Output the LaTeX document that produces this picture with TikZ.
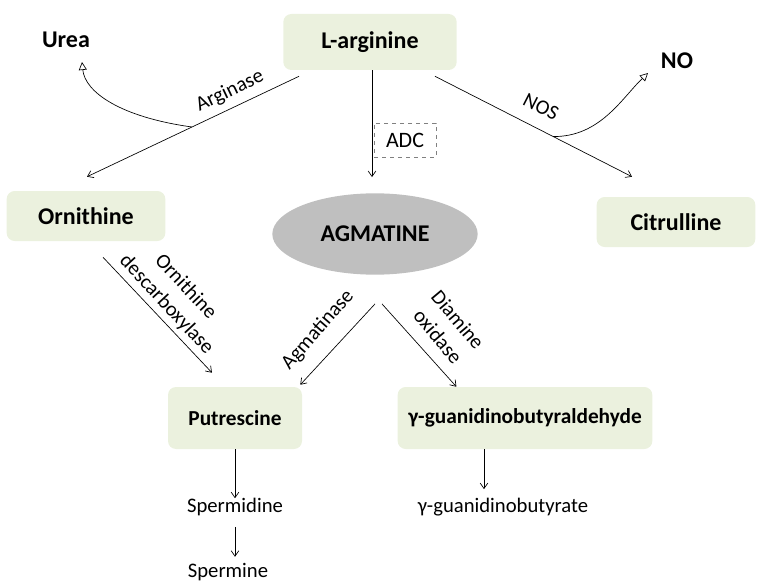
\documentclass[tikz,border=0pt]{standalone}
\usepackage{fontspec}
\setmainfont{Carlito}
\usepackage{tikz}
\usetikzlibrary{arrows.meta}
\usetikzlibrary{calc}
\usetikzlibrary{shapes}
\usepackage{xcolor}
\definecolor{boxgreen}{HTML}{EBF1DE}
\definecolor{agmgray}{HTML}{BFBFBF}
\tikzset{
	compound/.style={rectangle, rounded corners=6pt, fill=boxgreen, inner sep=0pt, font=\fontsize{18}{21}\selectfont\bfseries},
	smallcompound/.style={compound, font=\fontsize{16}{19}\selectfont\bfseries},
	product/.style={inner sep=2pt, font=\fontsize{18}{21}\selectfont\bfseries},
	metabolite/.style={inner sep=2pt, font=\fontsize{15.5}{18}\selectfont},
	enzyme/.style={inner sep=1pt, align=center, font=\fontsize{15.5}{19.5}\selectfont},
	reaction/.style={draw, line width=0.5pt, -{Straight Barb[angle=70:5pt]}},
	release/.style={draw, line width=0.5pt, -{Triangle[open, length=6pt, width=6pt]}}
}

\begin{document}
\begin{tikzpicture}[x=0.75pt, y=-0.75pt]
	\useasboundingbox (0,0) rectangle (761,585);
	\node[compound, minimum width=130pt, minimum height=42pt] (larg) at (370,42) {L-arginine};
	\node[compound, minimum width=119pt, minimum height=37.5pt] (orn) at (86,216) {Ornithine};
	\node[compound, minimum width=119pt, minimum height=37.5pt] (citr) at (676,222) {Citrulline};
	\node[ellipse, fill=agmgray, minimum width=154pt, minimum height=61pt, inner sep=0pt,
		font=\fontsize{18}{21}\selectfont\bfseries] (agm) at (375,234) {AGMATINE};
	\node[smallcompound, minimum width=100.5pt, minimum height=46.5pt] (put) at (235,418) {Putrescine};
	\node[smallcompound, minimum width=191pt, minimum height=46.5pt] (gba) at (525,418) {γ-guanidinobutyraldehyde};
	\node[product] (urea) at (66,40) {Urea};
	\node[product] (no) at (677,61) {NO};
	\node[metabolite] (spd) at (235,507) {Spermidine};
	\node[metabolite] (spm) at (228,572) {Spermine};
	\node[metabolite] (gbt) at (503,507) {γ-guanidinobutyrate};
	\node[draw=gray, dashed, line width=0.4pt, minimum width=46.5pt, minimum height=25.5pt,
		font=\fontsize{16.5}{18}\selectfont] (adc) at (405,140) {ADC};

	% L-arginine
	\draw[reaction] ($(larg.south west)+(16,6)$) -- coordinate[pos=0.505] (argjoin) ($(orn.north)+(1,-14)$);
	\draw[release] (argjoin) .. controls (120,117) and (85,92) .. ($(urea)+(16,22)$);
	\draw[reaction] ($(larg.south east)+(-22,6)$) -- coordinate[pos=0.6] (nosjoin) ($(citr.north)+(-44,-20)$);
	\draw[release] (nosjoin) .. controls (600,137) and (622,98) .. ($(no)+(-29,12)$);
	\draw[reaction] ($(larg.south)+(2,0)$) -- ($(agm.north)+(-3,-16)$);

	% polyamines
	\draw[reaction] ($(orn.south)+(17,16)$) -- ($(put.north)+(-23,-14)$);
	\draw[reaction] ($(agm.south)+(0,29)$) -- ($(put.north east)+(-2,-2)$);
	\draw[reaction] ($(agm.south)+(7,29)$) -- ($(gba.north west)+(59,0)$);
	\draw[reaction] (put.south) -- ($(spd.north)+(0,3)$);
	\draw[reaction] ($(spd.south)+(0,8)$) -- ($(spd.south)+(0,38)$);
	\draw[reaction] ($(gba.south)+(-41,0)$) -- ($(gbt.north)+(-19,-6)$);

	% enzymes
	\node[enzyme, rotate=25.5] (arginase) at (230,91) {Arginase};
	\node[enzyme, rotate=-27] (nos) at (541,107) {NOS};
	\node[enzyme, rotate=-47] (odc) at (176,296) {Ornithine\\descarboxylase};
	\node[enzyme, rotate=49] (agmatinase) at (318,330) {Agmatinase};
	\node[enzyme, rotate=-50] (dao) at (448,328) {Diamine\\oxidase};
\end{tikzpicture}
\end{document}
